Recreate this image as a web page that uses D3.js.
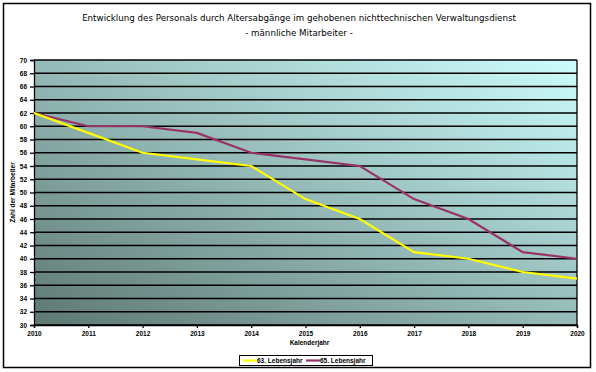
<!DOCTYPE html>
<html>
<head>
<meta charset="utf-8">
<script src="https://cdn.jsdelivr.net/npm/d3@7"></script>
<style>
  body { margin: 0; background: #fff; }
  svg text { font-family: "Liberation Sans", Arial, sans-serif; }
</style>
</head>
<body>
<div class="chart"></div>
<script>
// data
var years = [2010, 2011, 2012, 2013, 2014, 2015, 2016, 2017, 2018, 2019, 2020];
var age63 = [62, 59, 56, 55, 54, 49, 46, 41, 40, 38, 37];
var age65 = [62, 60, 60, 59, 56, 55, 54, 49, 46, 41, 40];
var seriesNames = ["63. Lebensjahr", "65. Lebensjahr"];
var seriesColors = ["#ffff00", "#993366"];
var yTicks = d3.range(30, 71, 2);

var titleLines = ["Entwicklung des Personals durch Altersabgänge im gehobenen nichttechnischen Verwaltungsdienst",
                  "- männliche Mitarbeiter -"];

var W = 596, H = 372;
var plotL = 34, plotR = 577, plotT = 60, plotB = 325;

var svg = d3.select(".chart").append("svg")
  .attr("width", W).attr("height", H);

// background gradient of the plot area, corner to corner
var defs = svg.append("defs");
var grad = defs.append("linearGradient").attr("id", "bg")
  .attr("x1", 0).attr("y1", 1).attr("x2", 1).attr("y2", 0);
grad.append("stop").attr("offset", "0%").attr("stop-color", "#5e7872");
grad.append("stop").attr("offset", "100%").attr("stop-color", "#ccfdfd");

// outer frame
svg.append("rect")
  .attr("x", 3.5).attr("y", 3.5).attr("width", 587).attr("height", 364)
  .attr("fill", "#fff").attr("stroke", "#000").attr("stroke-width", 1.5);

// title
svg.selectAll(".title").data(titleLines).enter().append("text")
  .attr("class", "title")
  .attr("x", 299).attr("y", function(d, i) { return 21 + i * 15; })
  .attr("text-anchor", "middle")
  .style("font-size", "8.7px")
  .style("font-family", "'DejaVu Sans', sans-serif")
  .text(function(d) { return d; });

var x = d3.scaleLinear().domain([2010, 2020]).range([plotL, plotR]);
var y = d3.scaleLinear().domain([30, 70]).range([plotB, plotT]);

svg.append("rect")
  .attr("x", plotL).attr("y", plotT)
  .attr("width", plotR - plotL).attr("height", plotB - plotT)
  .attr("fill", "url(#bg)");

// gridlines
svg.append("g").selectAll("line").data(yTicks).enter().append("line")
  .attr("x1", plotL).attr("x2", plotR)
  .attr("y1", function(d) { return y(d); })
  .attr("y2", function(d) { return y(d); })
  .attr("stroke", "#000").attr("stroke-width", 1.3);

// right border
svg.append("line")
  .attr("x1", plotR).attr("x2", plotR).attr("y1", plotT).attr("y2", plotB)
  .attr("stroke", "#000").attr("stroke-width", 1.3);

var yAxis = d3.axisLeft(y).tickValues(yTicks).tickSize(4).tickPadding(3);
var gy = svg.append("g").attr("transform", "translate(" + plotL + ",0)").call(yAxis);

var xAxis = d3.axisBottom(x).tickValues(years).tickFormat(d3.format("d")).tickSize(3).tickPadding(3);
var gx = svg.append("g").attr("transform", "translate(0," + plotB + ")").call(xAxis);

[gx, gy].forEach(function(g) {
  g.select(".domain").attr("stroke", "#000").attr("stroke-width", 1.3);
  g.selectAll(".tick line").attr("stroke", "#000").attr("stroke-width", 1.3);
  g.selectAll("text")
    .style("font-size", "6.5px").style("font-weight", "bold")
    .style("font-family", "'Liberation Sans', Arial, sans-serif")
    .attr("fill", "#000");
});

// axis titles
svg.append("text")
  .attr("transform", "translate(15," + ((plotT + plotB) / 2) + ") rotate(-90)")
  .attr("text-anchor", "middle")
  .style("font-size", "6.5px").style("font-weight", "bold")
  .text("Zahl der Mitarbeiter");

svg.append("text")
  .attr("x", (plotL + plotR) / 2 + 4).attr("y", 345)
  .attr("text-anchor", "middle")
  .style("font-size", "6.5px").style("font-weight", "bold")
  .text("Kalenderjahr");

// lines
var line = d3.line()
  .x(function(d, i) { return x(years[i]); })
  .y(function(d) { return y(d); });

[age65, age63].forEach(function(s, k) {
  var idx = k === 0 ? 1 : 0;
  svg.append("path").datum(s)
    .attr("d", line)
    .attr("fill", "none")
    .attr("stroke", seriesColors[idx])
    .attr("stroke-width", 2.2);
});

// legend
var lg = svg.append("g").attr("transform", "translate(239,355)");
lg.append("rect").attr("x", 0.5).attr("y", 0.5).attr("width", 133).attr("height", 10)
  .attr("fill", "#fff").attr("stroke", "#000").attr("stroke-width", 1);
var items = lg.selectAll(".item").data(seriesNames).enter().append("g")
  .attr("transform", function(d, i) { return "translate(" + (4 + i * 63) + ",0)"; });
items.append("line")
  .attr("x1", 0).attr("x2", 14).attr("y1", 5.5).attr("y2", 5.5)
  .attr("stroke", function(d, i) { return seriesColors[i]; })
  .attr("stroke-width", 2.2);
items.append("text")
  .attr("x", 14).attr("y", 8.2)
  .style("font-size", "6.5px").style("font-weight", "bold")
  .text(function(d) { return d; });
</script>
</body>
</html>
